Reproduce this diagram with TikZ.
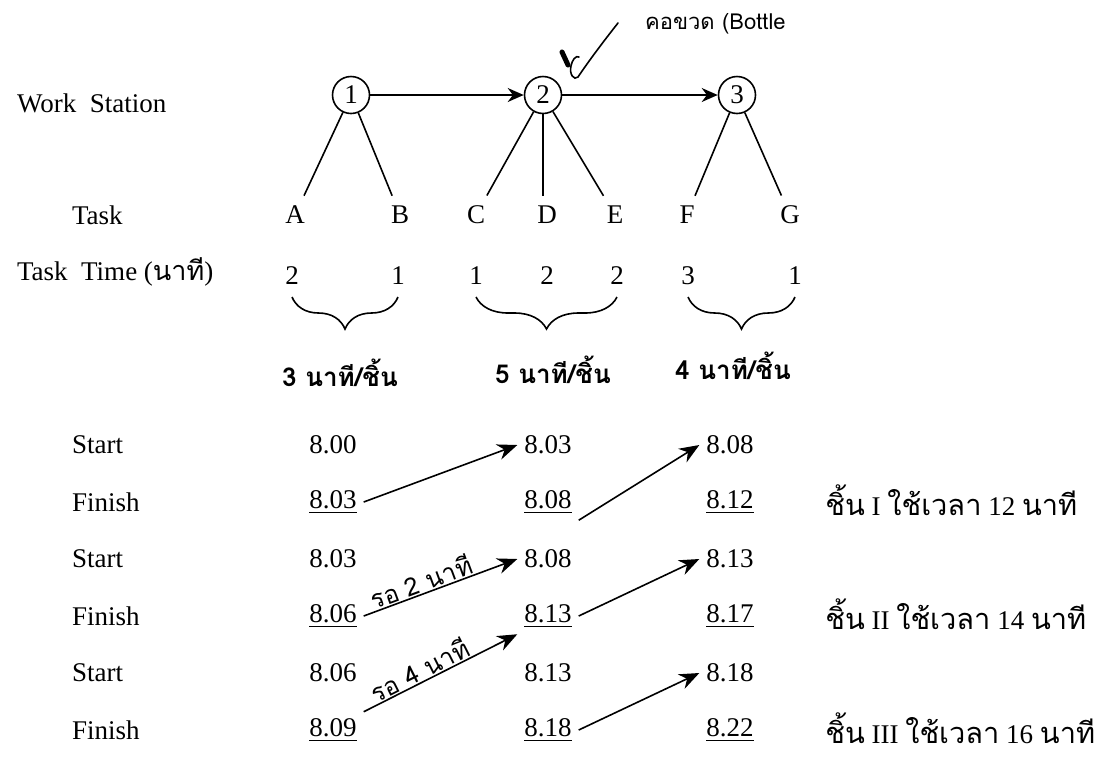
\documentclass[tikz,border=0pt]{standalone}
\usepackage{fontspec}
\setmainfont{Liberation Serif}
\newfontfamily\thaifont[Script=Thai]{Loma}
\usetikzlibrary{arrows.meta, positioning, decorations.pathreplacing}
\tikzset{
  x=0.5pt, y=-0.5pt, % one unit is one pixel of the scan, y runs down
  every node/.style={font=\fontsize{13.5}{16}\selectfont},
  station/.style={draw, circle, thick, minimum size=18.5pt,
    inner sep=0pt}, % the work stations
  task/.style={inner sep=5pt}, % letters below the stations
  lbl/.style={anchor=west}, % labels on the left
  flow/.style={thick, -{Stealth[length=8pt, width=7pt]}},
  wait/.style={thick, -{Stealth[length=10pt, width=8pt]}},
  brc/.style={thick, decorate, decoration={brace, amplitude=16pt}},
  thai/.style={font=\thaifont\fontsize{12.5}{14}\selectfont, inner sep=0.5pt},
  thaibold/.style={font=\thaifont\bfseries\fontsize{13}{16}\selectfont},
  piece/.style={anchor=west, inner sep=1pt}, % time used per piece
}
\newcommand{\thw}[1]{{\thaifont\fontsize{14.5}{16}\selectfont #1}}

\begin{document}
\begin{tikzpicture}
  \useasboundingbox (0,0) rectangle (1111,756);

  % stations
  \node[lbl] (l_station) at (10,103) {Work\ \ Station};
  \node[station] (ws_1) at (351,95) {1};
  \node[station] (ws_2) at (543,95) {2};
  \node[station] (ws_3) at (737,95) {3};
  \draw[flow] (ws_1) -- (ws_2);
  \draw[flow] (ws_2) -- (ws_3);

  % bottleneck note
  \node[anchor=west, font=\thaifont\fontsize{11}{13}\selectfont]
    (bottle) at (638,24) {คอขวด (Bottle};
  \draw[thick, line cap=round] (618,23) .. controls (603,42) and (588,62) .. (578,77)
    .. controls (574,81) and (569,74) .. (571,66)
    .. controls (572,60) and (576,55) .. (579,57);
  \draw[line width=2.5pt, line cap=round] (562,52) -- (568,65);

  % tasks
  \node[lbl] (l_task) at (65,215) {Task};
  \node[task] (t_A) at (295,215) {A};
  \node[task] (t_B) at (400,215) {B};
  \node[task] (t_C) at (476,215) {C};
  \node[task] (t_D) at (547,215) {D};
  \node[task] (t_E) at (615,215) {E};
  \node[task] (t_F) at (687,215) {F};
  \node[task] (t_G) at (790,215) {G};
  \draw[thick] (ws_1) -- (t_A);
  \draw[thick] (ws_1) -- (t_B);
  \draw[thick] (ws_2) -- (t_C);
  \draw[thick] (ws_2.south) -- (ws_2 |- t_D.north);
  \draw[thick] (ws_2) -- (t_E);
  \draw[thick] (ws_3) -- (t_F);
  \draw[thick] (ws_3) -- (t_G);

  % task times
  \node[lbl] (l_time) at (10,272) {Task\ \ Time ({\thaifont นาที})};
  \node (n_A) at (292,276) {2};
  \node (n_B) at (398,276) {1};
  \node (n_C) at (476,276) {1};
  \node (n_D) at (547,276) {2};
  \node (n_E) at (617,276) {2};
  \node (n_F) at (688,276) {3};
  \node (n_G) at (795,276) {1};
  \draw[brc] (n_B |- 0,297) -- (n_A |- 0,297);
  \draw[brc] (n_E |- 0,297) -- (n_C |- 0,297);
  \draw[brc] (n_G |- 0,297) -- (n_F |- 0,297);
  \node[thaibold] (cyc_1) at (340,373) {3 นาที/ชิ้น};
  \node[thaibold] (cyc_2) at (553,370) {5 นาที/ชิ้น};
  \node[thaibold] (cyc_3) at (733,366) {4 นาที/ชิ้น};

  % schedule
  \node[lbl] (l_s1) at (65,445) {Start};
  \node[lbl] (l_f1) at (65,502) {Finish};
  \node[lbl] (l_s2) at (65,559) {Start};
  \node[lbl] (l_f2) at (65,616) {Finish};
  \node[lbl] (l_s3) at (65,673) {Start};
  \node[lbl] (l_f3) at (65,730) {Finish};

  \node (start_1_1) at (333,445) {8.00};
  \node (finish_1_1) at (333,502) {\underline{8.03}};
  \node (start_2_1) at (333,559) {8.03};
  \node (finish_2_1) at (333,616) {\underline{8.06}};
  \node (start_3_1) at (333,673) {8.06};
  \node (finish_3_1) at (333,730) {\underline{8.09}};

  \node (start_1_2) at (548,445) {8.03};
  \node (finish_1_2) at (548,502) {\underline{8.08}};
  \node (start_2_2) at (548,559) {8.08};
  \node (finish_2_2) at (548,616) {\underline{8.13}};
  \node (start_3_2) at (548,673) {8.13};
  \node (finish_3_2) at (548,730) {\underline{8.18}};

  \node (start_1_3) at (730,445) {8.08};
  \node (finish_1_3) at (730,502) {\underline{8.12}};
  \node (start_2_3) at (730,559) {8.13};
  \node (finish_2_3) at (730,616) {\underline{8.17}};
  \node (start_3_3) at (730,673) {8.18};
  \node (finish_3_3) at (730,730) {\underline{8.22}};

  \draw[wait] (finish_1_1.east) -- (start_1_2.west);
  \draw[wait] (finish_1_2.south east) -- (start_1_3.west);
  \draw[wait] (finish_2_1.east) -- node[thai, above, sloped, pos=0.4] {รอ 2 นาที}
    (start_2_2.west);
  \draw[wait] (finish_2_2.east) -- (start_2_3.west);
  \draw[wait] (finish_3_1.north east) -- node[thai, above, sloped, pos=0.4] {รอ 4 นาที}
    (finish_2_2.south west);
  \draw[wait] (finish_3_2.east) -- (start_3_3.west);

  % time per piece
  \node[piece] (piece_1) at (823,500) {\thw{ชิ้น} I \thw{ใช้เวลา} 12 \thw{นาที}};
  \node[piece] (piece_2) at (823,614) {\thw{ชิ้น} II \thw{ใช้เวลา} 14 \thw{นาที}};
  \node[piece] (piece_3) at (823,728) {\thw{ชิ้น} III \thw{ใช้เวลา} 16 \thw{นาที}};
\end{tikzpicture}
\end{document}
